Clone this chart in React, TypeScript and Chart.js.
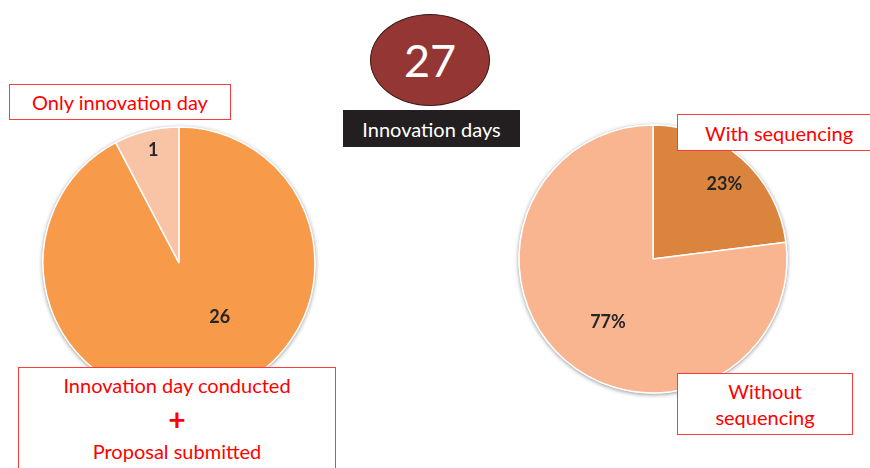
import React, { useEffect, useRef } from "react";
import { Chart, registerables } from "chart.js";

Chart.register(...registerables);

// ---------- data ----------
const leftCategories = ["Innovation day conducted + Proposal submitted", "Only innovation day"];
// printed counts on the slices
const leftValues = [26, 1];
// slice shares as drawn in the picture (percent)
const leftDrawnShares = [92.3, 7.7];
const leftColors = ["#F79A4A", "#F9C3A6"];

const rightCategories = ["With sequencing", "Without sequencing"];
const rightValues = [23, 77];
const rightColors = ["#DB843E", "#F8B58F"];

const headlineLabel = "Innovation days";
const headlineTotal = leftValues.reduce((a, b) => a + b, 0);

const FONT = "Lato, 'Open Sans', sans-serif";

type LabelPlace = { frac: number; offset: number };

const shadowPlugin = {
  id: "pieShadow",
  beforeDatasetsDraw(chart: any) {
    const meta = chart.getDatasetMeta(0);
    const arc: any = meta.data[0];
    if (!arc) return;
    const ctx = chart.ctx;
    ctx.save();
    ctx.beginPath();
    ctx.arc(arc.x, arc.y, arc.outerRadius + 0.5, 0, Math.PI * 2);
    ctx.fillStyle = "#ffffff";
    ctx.shadowColor = "rgba(0,0,0,0.45)";
    ctx.shadowBlur = 4;
    ctx.shadowOffsetY = 1;
    ctx.fill();
    ctx.restore();
  },
};

const valueLabelPlugin = {
  id: "valueLabels",
  afterDatasetsDraw(chart: any, _args: any, opts: any) {
    const meta = chart.getDatasetMeta(0);
    const texts: string[] = opts.texts || [];
    const ctx = chart.ctx;
    ctx.save();
    ctx.font = `bold 18px ${FONT}`;
    ctx.fillStyle = "#262626";
    ctx.textAlign = "center";
    ctx.textBaseline = "middle";
    meta.data.forEach((arc: any, i: number) => {
      const place: LabelPlace = (opts.places && opts.places[i]) || { frac: 0.6, offset: 0 };
      const mid = (arc.startAngle + arc.endAngle) / 2 + (place.offset * Math.PI) / 180;
      const r = arc.outerRadius * place.frac;
      const x = arc.x + Math.cos(mid) * r;
      const y = arc.y + Math.sin(mid) * r;
      ctx.fillText(texts[i] ?? "", x, y);
    });
    ctx.restore();
  },
};

function PieCanvas(props: {
  labels: string[];
  values: number[];
  texts: string[];
  colors: string[];
  radius: number;
  places: LabelPlace[];
  style: React.CSSProperties;
}) {
  const ref = useRef<HTMLCanvasElement | null>(null);
  useEffect(() => {
    if (!ref.current) return;
    const chart = new Chart(ref.current, {
      type: "pie",
      data: {
        labels: props.labels,
        datasets: [
          {
            data: props.values,
            backgroundColor: props.colors,
            borderColor: "#ffffff",
            borderWidth: 1.5,
          },
        ],
      },
      options: {
        animation: false,
        responsive: false,
        radius: props.radius,
        layout: { padding: 0 },
        plugins: {
          legend: { display: false },
          tooltip: { enabled: false },
          valueLabels: { texts: props.texts, places: props.places },
        } as any,
      } as any,
      plugins: [shadowPlugin, valueLabelPlugin],
    });
    return () => chart.destroy();
  }, []);
  return <canvas ref={ref} width={300} height={300} style={{ position: "absolute", ...props.style }} />;
}

const redBox: React.CSSProperties = {
  position: "absolute",
  background: "#ffffff",
  border: "1.5px solid #FF3B3B",
  color: "#FF0000",
  fontFamily: FONT,
  fontSize: 20,
  textAlign: "center",
  boxSizing: "border-box",
  display: "flex",
  flexDirection: "column",
  justifyContent: "center",
  alignItems: "center",
};

const rightTotal = rightValues.reduce((a, b) => a + b, 0);

export default function App() {
  return (
    <div
      style={{
        position: "absolute",
        left: 0,
        top: 0,
        width: 870,
        height: 468,
        overflow: "hidden",
        background: "#ffffff",
        fontFamily: FONT,
      }}
    >
      <PieCanvas
        labels={leftCategories}
        values={leftDrawnShares}
        texts={leftValues.map((v) => String(v))}
        colors={leftColors}
        radius={136}
        places={[
          { frac: 0.5, offset: -23 },
          { frac: 0.85, offset: 1 },
        ]}
        style={{ left: 29, top: 113 }}
      />
      <PieCanvas
        labels={rightCategories}
        values={rightValues}
        texts={rightValues.map((v) => `${Math.round((v / rightTotal) * 100)}%`)}
        colors={rightColors}
        radius={134}
        places={[
          { frac: 0.77, offset: 2.4 },
          { frac: 0.58, offset: -6 },
        ]}
        style={{ left: 503, top: 109 }}
      />

      {/* headline ellipse */}
      <div
        style={{
          position: "absolute",
          left: 370,
          top: 14,
          width: 120,
          height: 92,
          borderRadius: "50%",
          background: "#943634",
          border: "1px solid #3a1a18",
          boxSizing: "border-box",
          color: "#ffffff",
          fontSize: 45,
          display: "flex",
          alignItems: "center",
          justifyContent: "center",
        }}
      >
        {headlineTotal}
      </div>
      <div
        style={{
          position: "absolute",
          left: 343,
          top: 110,
          width: 177,
          height: 37,
          background: "#231F20",
          color: "#ffffff",
          fontSize: 20,
          display: "flex",
          alignItems: "center",
          justifyContent: "center",
        }}
      >
        {headlineLabel}
      </div>

      <div style={{ ...redBox, left: 9, top: 84, width: 222, height: 36 }}>{leftCategories[1]}</div>
      <div
        style={{
          ...redBox,
          left: 18,
          top: 367,
          width: 318,
          height: 120,
          justifyContent: "flex-start",
          paddingTop: 5,
          lineHeight: "normal",
        }}
      >
        <div style={{ height: 26 }}>Innovation day conducted</div>
        <div style={{ height: 40, fontWeight: "bold", fontSize: 30, lineHeight: "40px" }}>+</div>
        <div>Proposal submitted</div>
      </div>
      <div style={{ ...redBox, left: 677, top: 114, width: 200, height: 37, alignItems: "flex-start", paddingLeft: 27 }}>
        {rightCategories[0]}
      </div>
      <div style={{ ...redBox, left: 677, top: 373, width: 176, height: 62, lineHeight: "26px" }}>
        <div>Without</div>
        <div>sequencing</div>
      </div>
    </div>
  );
}
